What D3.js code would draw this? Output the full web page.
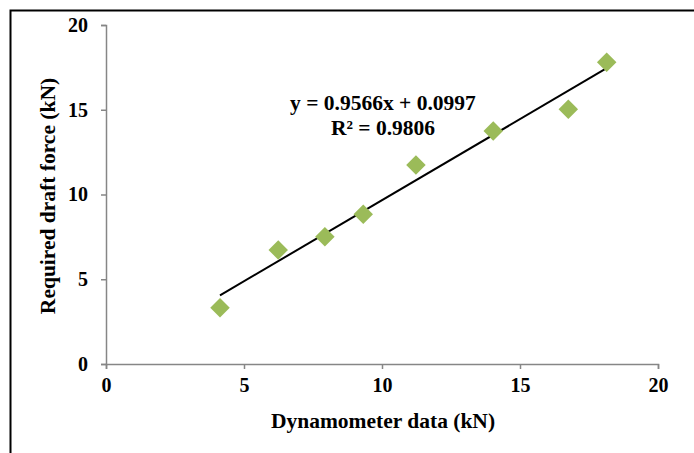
<!DOCTYPE html>
<html>
<head>
<meta charset="utf-8">
<script src="https://cdn.jsdelivr.net/npm/d3@7/dist/d3.min.js"></script>
<style>
  html, body { margin: 0; padding: 0; background: #fff; }
  svg { display: block; }
  text { font-family: "Liberation Serif", "Times New Roman", serif; font-weight: bold; fill: #000; }
</style>
</head>
<body>
<svg id="chart" width="694" height="453"></svg>
<script>
const dynamometer = [4.13, 6.24, 7.93, 9.32, 11.23, 14.03, 16.75, 18.14];
const draftForce  = [3.32, 6.73, 7.51, 8.83, 11.74, 13.75, 15.03, 17.80];
const xTicks = [0, 5, 10, 15, 20];
const yTicks = [0, 5, 10, 15, 20];
const slope = 0.9566, intercept = 0.0997;
const eqLine1 = "y = 0.9566x + 0.0997";
const eqLine2 = "R² = 0.9806";
const xTitle = "Dynamometer data (kN)";
const yTitle = "Required draft force (kN)";

const svg = d3.select("#chart");
// outer frame
svg.append("rect").attr("x", 10.5).attr("y", 10.5).attr("width", 700).attr("height", 460)
  .attr("fill", "none").attr("stroke", "#000").attr("stroke-width", 2);

const x = d3.scaleLinear().domain([0, 20]).range([106, 658]);
const y = d3.scaleLinear().domain([0, 20]).range([364, 25]);
const axisColor = "#868686";

const gx = svg.append("g").attr("transform", `translate(0,${y(0)})`)
  .call(d3.axisBottom(x).tickValues(xTicks).tickSize(5).tickPadding(6).tickFormat(d3.format("d")));
const gy = svg.append("g").attr("transform", `translate(${x(0)},0)`)
  .call(d3.axisLeft(y).tickValues(yTicks).tickSize(5).tickPadding(13).tickFormat(d3.format("d")));
[gx, gy].forEach(g => {
  g.select(".domain").attr("stroke", axisColor).attr("stroke-width", 1.5);
  g.selectAll(".tick line").attr("stroke", axisColor).attr("stroke-width", 1.5);
  g.selectAll(".tick text").style("font-size", "20px").style("font-family", "Liberation Serif, serif").style("font-weight", "bold").attr("fill", "#000");
});
gx.selectAll(".tick text").attr("dy", "0.85em");

// trendline
const xMin = d3.min(dynamometer), xMax = d3.max(dynamometer);
svg.append("line")
  .attr("x1", x(xMin)).attr("y1", y(slope * xMin + intercept))
  .attr("x2", x(xMax)).attr("y2", y(slope * xMax + intercept))
  .attr("stroke", "#000").attr("stroke-width", 2);

// points
const diamond = d3.symbol().type(d3.symbolSquare).size(190);
svg.append("g").selectAll("path").data(dynamometer.map((d, i) => [d, draftForce[i]]))
  .join("path")
  .attr("d", diamond)
  .attr("transform", d => `translate(${x(d[0])},${y(d[1])}) rotate(45)`)
  .attr("fill", "#9BBB59");

// equation
svg.append("text").attr("x", 383).attr("y", 110).attr("text-anchor", "middle")
  .style("font-size", "21.5px").text(eqLine1);
svg.append("text").attr("x", 383).attr("y", 135).attr("text-anchor", "middle")
  .style("font-size", "21.5px").text(eqLine2);

// axis titles
svg.append("text").attr("x", 383).attr("y", 428).attr("text-anchor", "middle")
  .style("font-size", "21.5px").text(xTitle);
svg.append("text").attr("transform", "translate(55,196) rotate(-90)").attr("text-anchor", "middle")
  .style("font-size", "21.5px").text(yTitle);
</script>
</body>
</html>
